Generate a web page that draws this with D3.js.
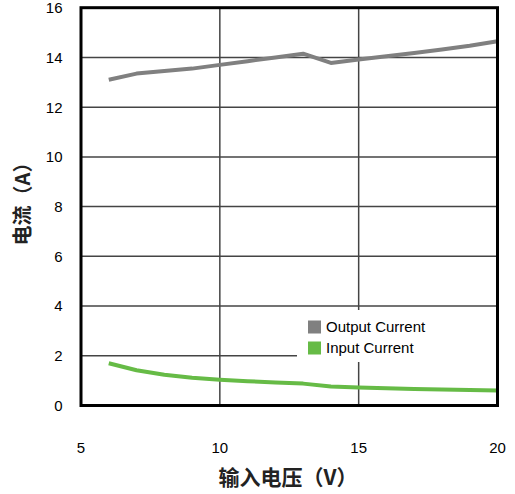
<!DOCTYPE html>
<html>
<head>
<meta charset="utf-8">
<script src="https://cdn.jsdelivr.net/npm/d3@7"></script>
<style>
  html, body { margin: 0; padding: 0; background: #fff; }
  svg { display: block; }
</style>
</head>
<body>
<svg id="chart" width="515" height="494"></svg>
<script>
const voltages = [6, 7, 8, 9, 10, 11, 12, 13, 14, 15, 16, 17, 18, 19, 20];
const outputCurrent = [13.1, 13.35, 13.45, 13.55, 13.7, 13.85, 14.0, 14.15, 13.78, 13.92, 14.05, 14.18, 14.32, 14.47, 14.65];
const inputCurrent = [1.7, 1.42, 1.24, 1.12, 1.04, 0.98, 0.93, 0.88, 0.76, 0.72, 0.69, 0.66, 0.64, 0.62, 0.6];
const xTicks = [5, 10, 15, 20];
const yTicks = [0, 2, 4, 6, 8, 10, 12, 14, 16];
const seriesNames = ["Output Current", "Input Current"];
const seriesColors = ["#808080", "#66bb46"];
const xTitle = "输入电压（V）";
const yTitle = "电流（A）";

const svg = d3.select("#chart");
const L = 81, R = 497.5, T = 7.7, B = 405.5;
const x = d3.scaleLinear().domain([5, 20]).range([L, R]);
const y = d3.scaleLinear().domain([0, 16]).range([B, T]);
const font = "'Liberation Sans', Arial, sans-serif";
const cjkFont = "'Noto Sans CJK SC', 'Liberation Sans', sans-serif";

// gridlines
const grid = svg.append("g");
grid.selectAll("line.h").data(yTicks.filter(d => d > 0 && d < 16)).enter()
  .append("line").attr("class", "h")
  .attr("x1", L).attr("x2", R)
  .attr("y1", d => y(d)).attr("y2", d => y(d))
  .attr("stroke", "#444").attr("stroke-width", 1.5);
grid.selectAll("line.v").data(xTicks.filter(d => d > 5 && d < 20)).enter()
  .append("line").attr("class", "v")
  .attr("x1", d => x(d)).attr("x2", d => x(d))
  .attr("y1", T).attr("y2", B)
  .attr("stroke", "#444").attr("stroke-width", 1.5);

// legend background
svg.append("rect").attr("x", 297).attr("y", 310).attr("width", R - 297).attr("height", 52).attr("fill", "#fff");

// lines
const line = d3.line().x((d, i) => x(voltages[i])).y(d => y(d));
[outputCurrent, inputCurrent].forEach((s, k) => {
  svg.append("path").datum(s)
    .attr("d", line)
    .attr("fill", "none")
    .attr("stroke", seriesColors[k])
    .attr("stroke-width", 4)
    .attr("stroke-linejoin", "round")
    .attr("stroke-linecap", "butt");
});

// frame
svg.append("rect").attr("x", L).attr("y", T).attr("width", R - L).attr("height", B - T)
  .attr("fill", "none").attr("stroke", "#000").attr("stroke-width", 3);

// y tick labels
svg.append("g").selectAll("text").data(yTicks).enter().append("text")
  .attr("x", 62.5).attr("y", d => y(d))
  .attr("dy", "0.36em")
  .attr("text-anchor", "end")
  .attr("font-family", font).attr("font-size", 15).attr("fill", "#000")
  .text(d => d);

// x tick labels
svg.append("g").selectAll("text").data(xTicks).enter().append("text")
  .attr("x", d => x(d)).attr("y", 448)
  .attr("dy", "0.36em")
  .attr("text-anchor", "middle")
  .attr("font-family", font).attr("font-size", 15).attr("fill", "#000")
  .text(d => d);

// axis titles
svg.append("text")
  .attr("x", 288).attr("y", 477).attr("dy", "0.36em")
  .attr("text-anchor", "middle")
  .attr("font-family", cjkFont).attr("font-size", 21).attr("font-weight", "bold").attr("fill", "#222")
  .text(xTitle);
svg.append("text")
  .attr("transform", "translate(23,199) rotate(-90)")
  .attr("dy", "0.36em")
  .attr("text-anchor", "middle")
  .attr("font-family", cjkFont).attr("font-size", 20).attr("font-weight", "bold").attr("fill", "#222")
  .text(yTitle);

// legend
const lg = svg.append("g");
seriesNames.forEach((n, k) => {
  const cy = 327 + k * 21;
  lg.append("rect").attr("x", 308).attr("y", cy - 6.5).attr("width", 13).attr("height", 13).attr("fill", seriesColors[k]);
  lg.append("text").attr("x", 326).attr("y", cy).attr("dy", "0.36em")
    .attr("font-family", font).attr("font-size", 15).attr("fill", "#000").text(n);
});
</script>
</body>
</html>
